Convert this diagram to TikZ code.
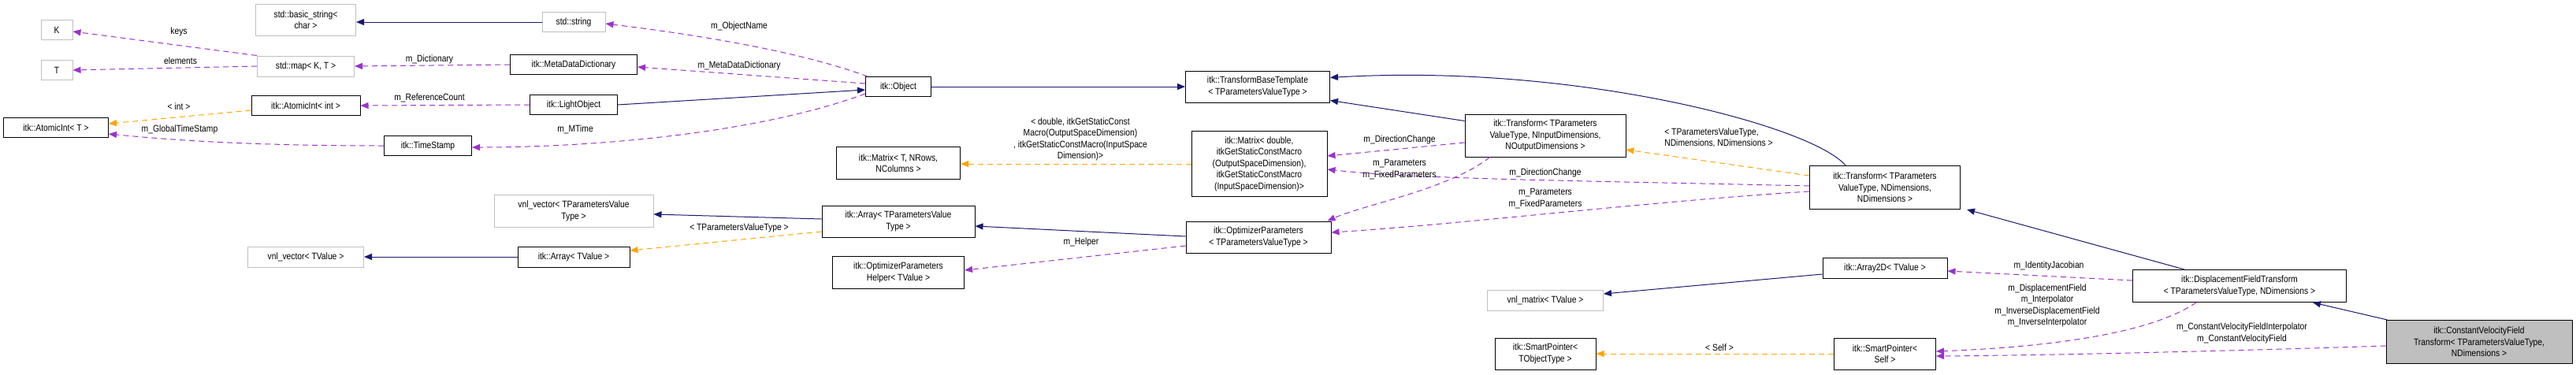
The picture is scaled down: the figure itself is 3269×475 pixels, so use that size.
\documentclass[tikz,border=0pt]{standalone}
\usepackage{fontspec}
\setmainfont{Liberation Sans}[FakeStretch=0.86]
\usetikzlibrary{arrows.meta,calc}
\definecolor{inh}{HTML}{191970}
\definecolor{use}{HTML}{9A32CD}
\definecolor{tpl}{HTML}{FFA500}
\begin{document}
\begin{tikzpicture}[x=1pt,y=-1pt,
  box/.style={draw=black,line width=1pt,fill=white,inner sep=0pt,align=center,font=\fontsize{12}{14.5}\selectfont},
  gbox/.style={box,draw=gray!50},
  lab/.style={inner sep=0pt,align=center,font=\fontsize{12}{14.5}\selectfont},
  tip/.style={-{Triangle[length=10pt,width=8pt]}},
  inhe/.style={tip,draw=inh,line width=1pt,arrows={-{Triangle[length=10pt,width=8pt,fill=inh]}}},
  usee/.style={tip,draw=use,line width=1pt,dash pattern=on 7pt off 5pt,arrows={-{Triangle[length=10pt,width=8pt,fill=use]}}},
  tple/.style={tip,draw=tpl,line width=1pt,dash pattern=on 7pt off 5pt,arrows={-{Triangle[length=10pt,width=8pt,fill=tpl]}}}]
\useasboundingbox (0,0) rectangle (3269,475);
% nodes
\node[gbox,minimum width=40,minimum height=25] (K) at (72,38) {K};
\node[gbox,minimum width=40,minimum height=25] (T) at (72,89) {T};
\node[box,minimum width=133,minimum height=25] (aiT) at (71,162) {itk::AtomicInt\textless{} T \textgreater};
\node[gbox,minimum width=127,minimum height=40] (bs) at (388,25) {std::basic\_string\textless\\char \textgreater};
\node[gbox,minimum width=123,minimum height=26] (map) at (388,84) {std::map\textless{} K, T \textgreater};
\node[box,minimum width=138,minimum height=25] (aii) at (388,134) {itk::AtomicInt\textless{} int \textgreater};
\node[gbox,minimum width=80,minimum height=25] (str) at (728,28) {std::string};
\node[box,minimum width=161,minimum height=25] (mdd) at (728,82) {itk::MetaDataDictionary};
\node[box,minimum width=111,minimum height=25] (lo) at (728,133) {itk::LightObject};
\node[box,minimum width=111,minimum height=25] (ts) at (543,185) {itk::TimeStamp};
\node[box,minimum width=83,minimum height=25] (obj) at (1140,110) {itk::Object};
\node[box,minimum width=183,minimum height=40] (tbt) at (1596,110) {itk::TransformBaseTemplate\\\textless{} TParametersValueType \textgreater};
\node[box,minimum width=157,minimum height=41] (mT) at (1140,207) {itk::Matrix\textless{} T, NRows,\\NColumns \textgreater};
\node[box,minimum width=172,minimum height=83] (mD) at (1598,208) {itk::Matrix\textless{} double,\\itkGetStaticConstMacro\\(OutputSpaceDimension),\\itkGetStaticConstMacro\\(InputSpaceDimension)\textgreater};
\node[box,minimum width=204,minimum height=54] (trI) at (1961,172) {itk::Transform\textless{} TParameters\\ValueType, NInputDimensions,\\NOutputDimensions \textgreater};
\node[box,minimum width=191,minimum height=55] (trD) at (2392,238) {itk::Transform\textless{} TParameters\\ValueType, NDimensions,\\NDimensions \textgreater};
\node[gbox,minimum width=202,minimum height=41] (vvP) at (728,268) {vnl\_vector\textless{} TParametersValue\\Type \textgreater};
\node[gbox,minimum width=147,minimum height=26] (vvV) at (388,326) {vnl\_vector\textless{} TValue \textgreater};
\node[box,minimum width=142,minimum height=26] (arV) at (728,326) {itk::Array\textless{} TValue \textgreater};
\node[box,minimum width=194,minimum height=40] (arP) at (1140,281) {itk::Array\textless{} TParametersValue\\Type \textgreater};
\node[box,minimum width=184,minimum height=40] (op) at (1597,301) {itk::OptimizerParameters\\\textless{} TParametersValueType \textgreater};
\node[box,minimum width=167,minimum height=41] (oph) at (1140,346) {itk::OptimizerParameters\\Helper\textless{} TValue \textgreater};
\node[box,minimum width=158,minimum height=26] (a2) at (2392,340) {itk::Array2D\textless{} TValue \textgreater};
\node[gbox,minimum width=147,minimum height=26] (vm) at (1961,381) {vnl\_matrix\textless{} TValue \textgreater};
\node[box,minimum width=128,minimum height=40] (spT) at (1961,449) {itk::SmartPointer\textless\\TObjectType \textgreater};
\node[box,minimum width=129,minimum height=40] (spS) at (2392,449) {itk::SmartPointer\textless\\Self \textgreater};
\node[box,minimum width=271,minimum height=41] (dft) at (2842,363) {itk::DisplacementFieldTransform\\\textless{} TParametersValueType, NDimensions \textgreater};
\node[box,fill=gray!50,minimum width=236,minimum height=55] (cvf) at (3146,434) {itk::ConstantVelocityField\\Transform\textless{} TParametersValueType,\\NDimensions \textgreater};
% inheritance
\draw[inhe] (str.west) -- (bs.east|-str.west);
\draw[inhe] (lo.east) -- ($(obj.west)+(0,4)$);
\draw[inhe] (obj.east) -- (tbt.west|-obj.east);
\draw[inhe] ($(trI.north west)+(0,9)$) -- ($(tbt.south east)+(0,-3)$);
\draw[inhe] ($(trD.north)+(-50,0)$) .. controls (2300,160) and (2000,80) .. ($(tbt.north east)+(0,9)$);
\draw[inhe] ($(arP.west)+(0,-3)$) -- (vvP.east|-0,272);
\draw[inhe] (arV.west) -- (vvV.east);
\draw[inhe] ($(op.west)+(0,-1)$) -- ($(arP.east)+(0,6)$);
\draw[inhe] ($(dft.north)+(-70,0)$) -- ($(trD.south east)+(8,0)$);
\draw[inhe] ($(a2.west)+(0,8)$) -- ($(vm.east)+(0,-8)$);
\draw[inhe] ($(cvf.north west)+(2,0)$) -- ($(dft.south)+(93,0)$);
% template
\draw[tple] ($(aii.west)+(0,6)$) -- ($(aiT.east)+(0,-5)$);
\draw[tple] ($(arP.west)+(0,13)$) -- ($(arV.east)+(0,-8)$);
\draw[tple] (mD.west) -- (mT.east|-mD.west);
\draw[tple] ($(trD.west)+(0,-15)$) -- ($(trI.east)+(0,18)$);
\draw[tple] (spS.west) -- (spT.east);
% usage
\draw[usee] (map.north west) -- ($(K.east)+(0,2)$);
\draw[usee] (map.west) -- (T.east);
\draw[usee] (mdd.west) -- (map.east);
\draw[usee] ($(obj.north west)+(3,0)$) .. controls (1000,60) and (850,40) .. ($(str.east)+(0,2)$);
\draw[usee] ($(obj.west)+(0,-4)$) -- ($(mdd.east)+(0,3)$);
\draw[usee] (lo.west) -- (aii.east);
\draw[usee] (ts.west) .. controls (300,185) and (200,176) .. ($(aiT.east)+(0,8)$);
\draw[usee] ($(obj.west)+(0,9)$) .. controls (960,170) and (750,187) .. ($(ts.east)+(0,2)$);
\draw[usee] ($(op.west)+(0,11)$) -- ($(oph.east)+(0,-3)$);
\draw[usee] ($(trI.west)+(0,9)$) -- ($(mD.east)+(0,-10)$);
\draw[usee] ($(trI.south west)+(32,0)$) .. controls (1840,240) and (1730,260) .. ($(op.north east)+(-5,0)$);
\draw[usee] ($(trD.west)+(0,-2)$) .. controls (2050,230) and (1800,228) .. ($(mD.east)+(0,7)$);
\draw[usee] ($(trD.west)+(0,5)$) .. controls (2100,255) and (1850,285) .. ($(op.east)+(0,-6)$);
\draw[usee] ($(dft.west)+(0,-7)$) -- ($(a2.east)+(0,4)$);
\draw[usee] ($(dft.south west)+(81,0)$) .. controls (2720,430) and (2560,442) .. ($(spS.east)+(0,-3)$);
\draw[usee] ($(cvf.west)+(0,5)$) .. controls (2850,445) and (2600,451) .. ($(spS.east)+(0,3)$);
% labels
\node[lab] (l1) at (227,40) {keys};
\node[lab] (l2) at (229,77) {elements};
\node[lab] (l3) at (545,75) {m\_Dictionary};
\node[lab] (l4) at (227,135) {\textless{} int \textgreater};
\node[lab] (l5) at (545,124) {m\_ReferenceCount};
\node[lab] (l6) at (228,164) {m\_GlobalTimeStamp};
\node[lab] (l7) at (730,164) {m\_MTime};
\node[lab] (l8) at (938,33) {m\_ObjectName};
\node[lab] (l9) at (938,83) {m\_MetaDataDictionary};
\node[lab] (l10) at (1371,177) {\textless{} double, itkGetStaticConst\\Macro(OutputSpaceDimension)\\, itkGetStaticConstMacro(InputSpace\\Dimension)\textgreater};
\node[lab] (l11) at (938,289) {\textless{} TParametersValueType \textgreater};
\node[lab] (l12) at (1372,307) {m\_Helper};
\node[lab] (l13) at (1776,177) {m\_DirectionChange};
\node[lab] (l14) at (1776,215) {m\_Parameters\\m\_FixedParameters};
\node[lab,align=left] (l15) at (2181,175) {\textless{} TParametersValueType,\\NDimensions, NDimensions \textgreater};
\node[lab] (l16) at (1961,219) {m\_DirectionChange};
\node[lab] (l17) at (1961,252) {m\_Parameters\\m\_FixedParameters};
\node[lab] (l18) at (2182,441) {\textless{} Self \textgreater};
\node[lab] (l19) at (2600,337) {m\_IdentityJacobian};
\node[lab] (l20) at (2598,388) {m\_DisplacementField\\m\_Interpolator\\m\_InverseDisplacementField\\m\_InverseInterpolator};
\node[lab] (l21) at (2845,423) {m\_ConstantVelocityFieldInterpolator\\m\_ConstantVelocityField};
\end{tikzpicture}
\end{document}
